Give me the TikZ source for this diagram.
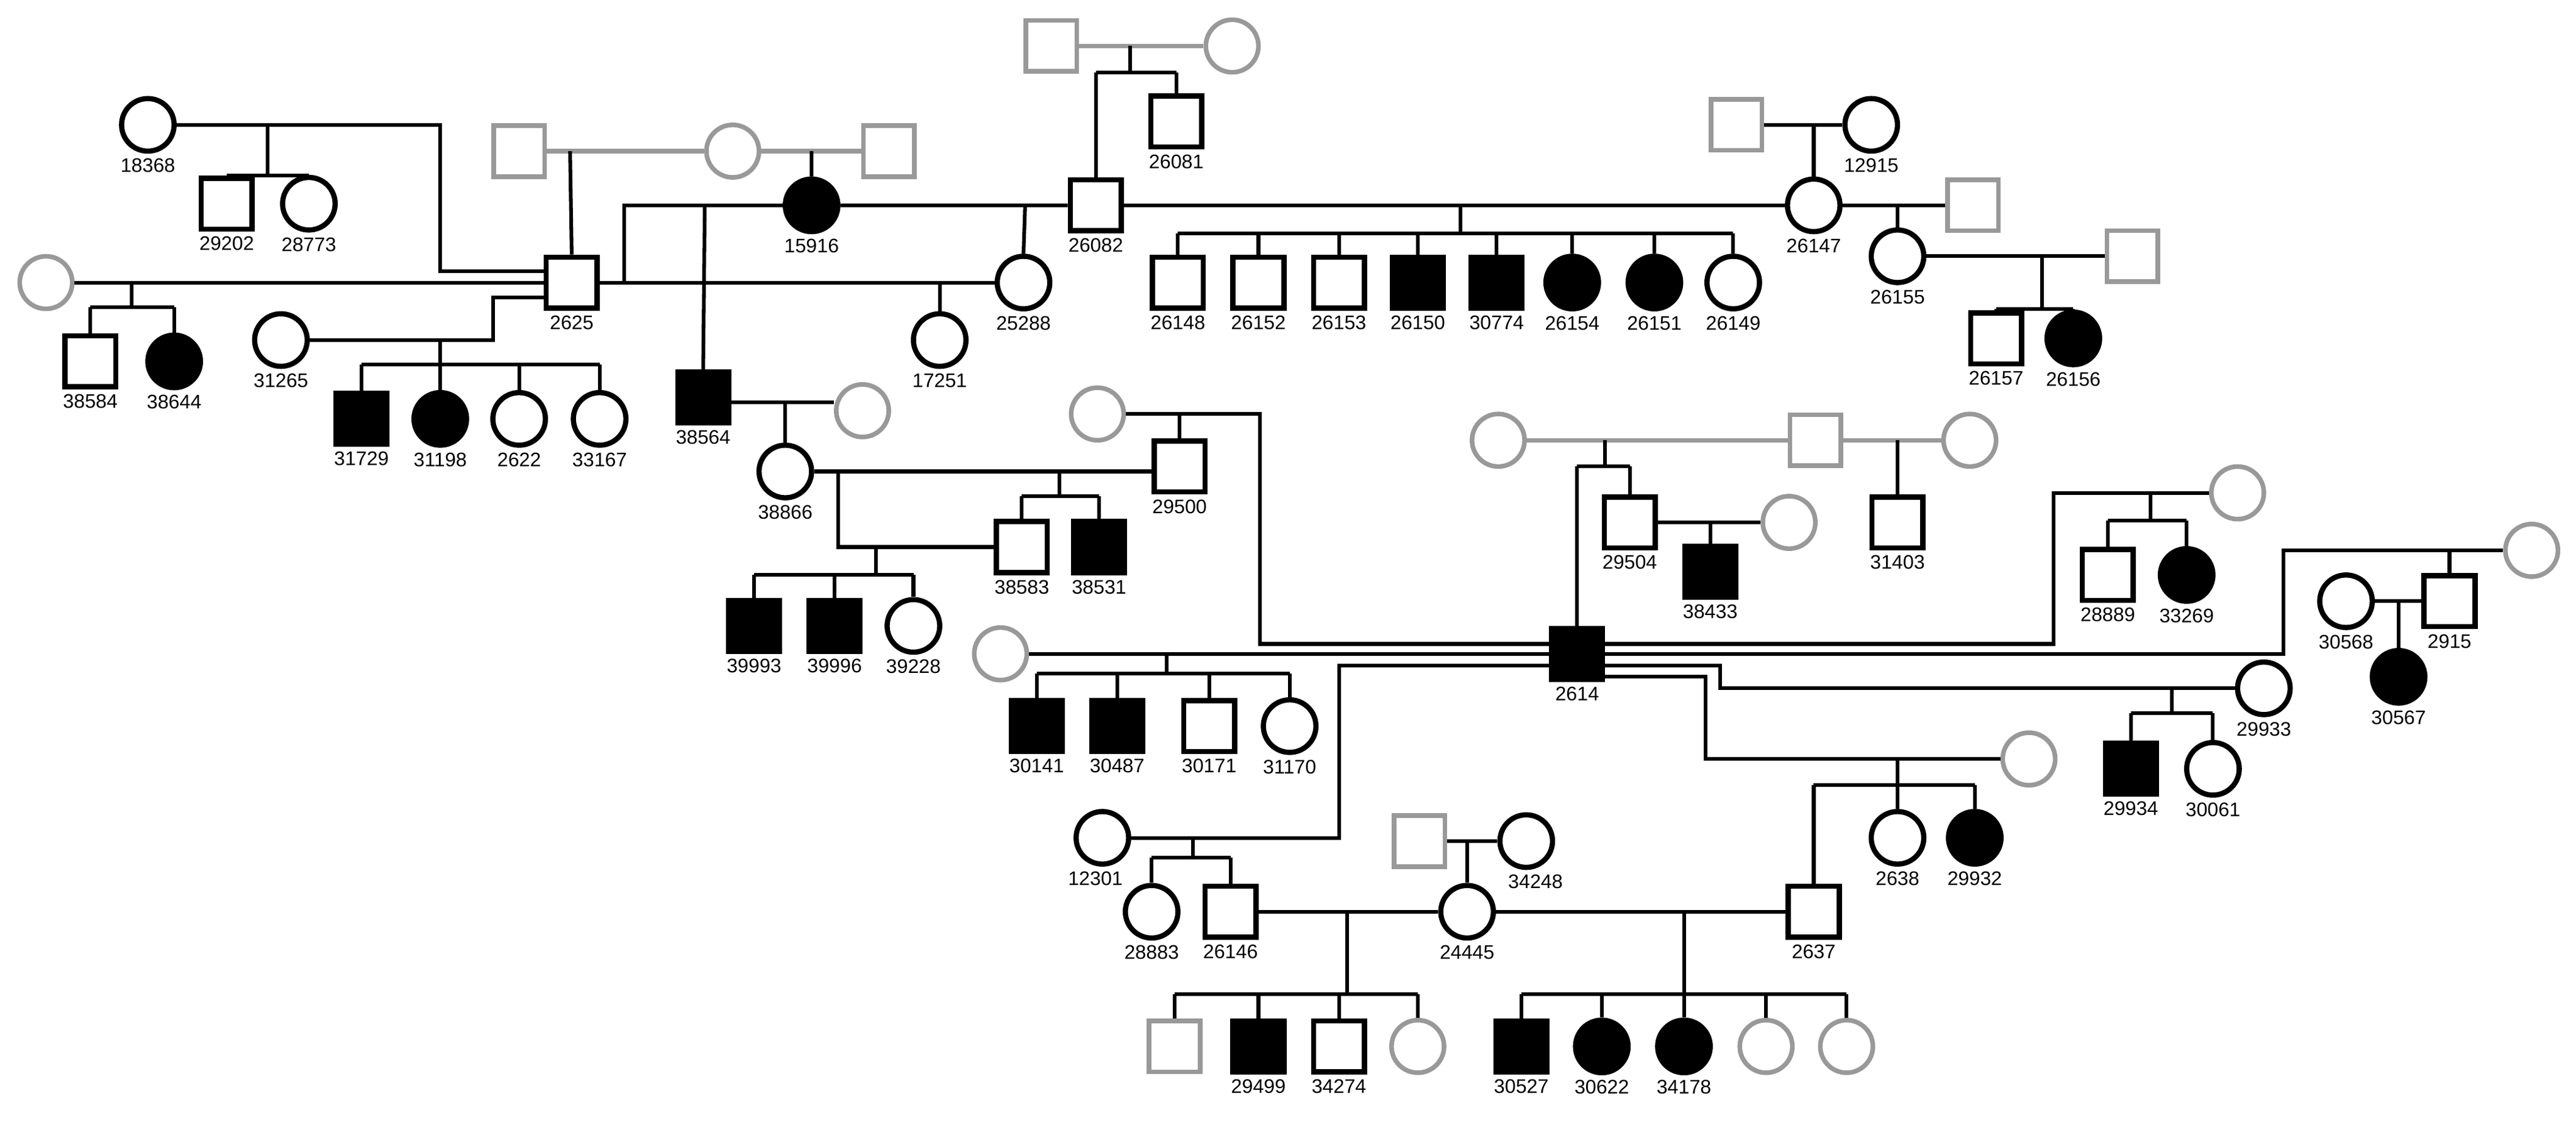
\documentclass[tikz,border=0pt]{standalone}
\usepackage{fontspec}
\setmainfont{Liberation Sans}
\usetikzlibrary{positioning}
\tikzset{
	every node/.style={line width=4.5pt, inner sep=0pt},
	m/.style={draw, minimum size=1.55cm, rectangle}, % male
	f/.style={draw, minimum size=1.6cm, circle}, % female
	aff/.style={fill=black}, % affected
	gr/.style={draw=gray!80, line width=4pt}, % outside pedigree
	every label/.style={font=\fontsize{17}{17}\selectfont, label distance=2pt},
	rel/.style={line width=3.2pt},
}
\newcommand{\sibship}[4]{%
	\draw[rel] (#2.north |- 0,#1) -- (#3.north |- 0,#1);
	\foreach \c in {#4} \draw[rel] (\c.north) -- (\c.north |- 0,#1);}

\begin{document}
\begin{tikzpicture}[x=0.05cm, y=-0.05cm]
	\useasboundingbox (0,0) rectangle (1568,686);
	% top left
	\node[f,label=below:18368] (n18368) at (90,76) {};
	\node[m,label=below:29202] (n29202) at (138,124) {};
	\node[f,label=below:28773] (n28773) at (188,124) {};
	\node[m,gr] (g1) at (316,92) {};
	\node[f,gr] (g2) at (446,92) {};
	\node[m,gr] (g3) at (541,92) {};
	\node[m,label=below:2625] (n2625) at (348,172) {};
	\node[f,aff,label=below:15916] (n15916) at (494,125) {};
	\node[f,gr] (g9) at (28,172) {};
	\node[m,label=below:38584] (n38584) at (55,220) {};
	\node[f,aff,label=below:38644] (n38644) at (106,220) {};
	\node[f,label=below:31265] (n31265) at (171,207) {};
	\node[m,aff,label=below:31729] (n31729) at (220,255) {};
	\node[f,aff,label=below:31198] (n31198) at (268,255) {};
	\node[f,label=below:2622] (n2622) at (316,255) {};
	\node[f,label=below:33167] (n33167) at (365,255) {};
	\node[f,label=below:17251] (n17251) at (572,207) {};
	\node[f,label=below:25288] (n25288) at (623,172) {};
	% top middle
	\node[m,gr] (g4) at (640,28) {};
	\node[f,gr] (g5) at (750,28) {};
	\node[m,label=below:26081] (n26081) at (716,74) {};
	\node[m,label=below:26082] (n26082) at (667,125) {};
	\node[f,label=below:26147] (n26147) at (1104,125) {};
	\node[m,label=below:26148] (n26148) at (717,172) {};
	\node[m,label=below:26152] (n26152) at (766,172) {};
	\node[m,label=below:26153] (n26153) at (815,172) {};
	\node[m,aff,label=below:26150] (n26150) at (863,172) {};
	\node[m,aff,label=below:30774] (n30774) at (911,172) {};
	\node[f,aff,label=below:26154] (n26154) at (957,172) {};
	\node[f,aff,label=below:26151] (n26151) at (1007,172) {};
	\node[f,label=below:26149] (n26149) at (1055,172) {};
	% top right
	\node[m,gr] (g6) at (1057,76) {};
	\node[f,label=below:12915] (n12915) at (1139,76) {};
	\node[m,gr] (g7) at (1201,125) {};
	\node[f,label=below:26155] (n26155) at (1155,156) {};
	\node[m,gr] (g8) at (1298,156) {};
	\node[m,label=below:26157] (n26157) at (1215,206) {};
	\node[f,aff,label=below:26156] (n26156) at (1262,206) {};
	% middle left
	\node[m,aff,label=below:38564] (n38564) at (428,242) {};
	\node[f,gr] (g10) at (525,250) {};
	\node[f,label=below:38866] (n38866) at (478,287) {};
	\node[m,label=below:29500] (n29500) at (718,284) {};
	\node[m,label=below:38583] (n38583) at (622,333) {};
	\node[m,aff,label=below:38531] (n38531) at (669,333) {};
	\node[m,aff,label=below:39993] (n39993) at (459,381) {};
	\node[m,aff,label=below:39996] (n39996) at (508,381) {};
	\node[f,label=below:39228] (n39228) at (556,381) {};
	\node[f,gr] (g11) at (668,252) {};
	\node[f,gr] (g12) at (609,398) {};
	\node[m,aff,label=below:30141] (n30141) at (631,442) {};
	\node[m,aff,label=below:30487] (n30487) at (680,442) {};
	\node[m,label=below:30171] (n30171) at (736,442) {};
	\node[f,label=below:31170] (n31170) at (785,442) {};
	% centre
	\node[m,aff,label=below:2614] (n2614) at (960,398) {};
	\node[f,gr] (g13) at (912,268) {};
	\node[m,gr] (g14) at (1105,268) {};
	\node[f,gr] (g15) at (1199,268) {};
	\node[m,label=below:29504] (n29504) at (992,318) {};
	\node[f,gr] (g16) at (1089,318) {};
	\node[m,aff,label=below:38433] (n38433) at (1041,348) {};
	\node[m,label=below:31403] (n31403) at (1155,318) {};
	% middle right
	\node[f,gr] (g17) at (1362,300) {};
	\node[m,label=below:28889] (n28889) at (1283,350) {};
	\node[f,aff,label=below:33269] (n33269) at (1331,350) {};
	\node[f,gr] (g18) at (1541,335) {};
	\node[m,label=below:2915] (n2915) at (1491,366) {};
	\node[f,label=below:30568] (n30568) at (1428,366) {};
	\node[f,aff,label=below:30567] (n30567) at (1460,412) {};
	\node[f,label=below:29933] (n29933) at (1378,419) {};
	\node[m,aff,label=below:29934] (n29934) at (1297,468) {};
	\node[f,label=below:30061] (n30061) at (1347,468) {};
	\node[f,gr] (g19) at (1235,462) {};
	\node[f,label=below:2638] (n2638) at (1155,510) {};
	\node[f,aff,label=below:29932] (n29932) at (1202,510) {};
	% bottom
	\node[f,label={[xshift=-6pt]below:12301}] (n12301) at (671,510) {};
	\node[f,label=below:28883] (n28883) at (701,555) {};
	\node[m,label=below:26146] (n26146) at (749,555) {};
	\node[m,gr] (g22) at (864,512) {};
	\node[f,label={[xshift=8pt]below:34248}] (n34248) at (929,512) {};
	\node[f,label=below:24445] (n24445) at (893,555) {};
	\node[m,label=below:2637] (n2637) at (1104,555) {};
	\node[m,gr] (g20) at (715,637) {};
	\node[m,aff,label=below:29499] (n29499) at (766,637) {};
	\node[m,label=below:34274] (n34274) at (815,637) {};
	\node[f,gr] (g21) at (863,637) {};
	\node[m,aff,label=below:30527] (n30527) at (926,637) {};
	\node[f,aff,label=below:30622] (n30622) at (975,637) {};
	\node[f,aff,label=below:34178] (n34178) at (1025,637) {};
	\node[f,gr] (g23) at (1075,637) {};
	\node[f,gr] (g24) at (1124,637) {};

	% matings and sibships
	\draw[rel] (n18368.east) -- (268,76) -- (268,165) -- (n2625.west |- 0,165);
	\draw[rel] (163,76) -- (163,107);
	\sibship{107}{n29202}{n28773}{n29202,n28773}
	\draw[gr] (g1.east) -- (g2.west) (g2.east) -- (g3.west);
	\draw[rel] (347,92) -- (n2625.north) (494,92) -- (n15916.north);
	\draw[rel] (380,172) -- (380,125) -- (n15916.west);
	\draw[rel] (429,125) -- (n38564.north);
	\draw[rel] (n15916.east) -- (n26082.west) (624,125) -- (n25288.north);
	\draw[rel] (n2625.east) -- (n25288.west) (572,172) -- (n17251.north);
	\draw[rel] (g9.east) -- (n2625.west) (80,172) -- (80,187);
	\sibship{187}{n38584}{n38644}{n38584,n38644}
	\draw[rel] (n31265.east) -- (300,207) -- (300,181) -- (n2625.west |- 0,181);
	\draw[rel] (268,207) -- (268,222);
	\sibship{222}{n31729}{n33167}{n31729,n31198,n2622,n33167}
	\draw[gr] (g4.east) -- (g5.west);
	\draw[rel] (688,28) -- (688,44);
	\sibship{44}{n26082}{n26081}{n26082,n26081}
	\draw[rel] (n26082.east) -- (n26147.west) (889,125) -- (889,142);
	\sibship{142}{n26148}{n26149}{n26148,n26152,n26153,n26150,n30774,n26154,n26151,n26149}
	\draw[rel] (g6.east) -- (n12915.west) (1104,76) -- (n26147.north);
	\draw[rel] (n26147.east) -- (g7.west) (1155,125) -- (n26155.north);
	\draw[rel] (n26155.east) -- (g8.west) (1243,156) -- (1243,188);
	\sibship{188}{n26157}{n26156}{n26157,n26156}
	\draw[rel] (n38564.east |- 0,245) -- (g10.west |- 0,245) (478,245) -- (n38866.north);
	\draw[rel] (n38866.east) -- (n29500.west |- 0,287) (645,287) -- (645,302);
	\sibship{302}{n38583}{n38531}{n38583,n38531}
	\draw[rel] (510,287) -- (510,333) -- (n38583.west) (533,333) -- (533,350);
	\sibship{350}{n39993}{n39228}{n39993,n39996,n39228}
	\draw[rel] (g11.east) -- (767,252) -- (767,392) -- (n2614.west |- 0,392);
	\draw[rel] (718,252) -- (n29500.north);
	\draw[rel] (g12.east) -- (n2614.west |- 0,398) (710,398) -- (710,410);
	\sibship{410}{n30141}{n31170}{n30141,n30487,n30171,n31170}
	\draw[rel] (n12301.east) -- (815,510) -- (815,405) -- (n2614.west |- 0,405);
	\draw[rel] (726,510) -- (726,522);
	\sibship{522}{n28883}{n26146}{n28883,n26146}
	\draw[gr] (g13.east) -- (g14.west) (g14.east) -- (g15.west);
	\draw[rel] (977,268) -- (977,284) (1155,268) -- (n31403.north);
	\sibship{284}{n2614}{n29504}{n2614,n29504}
	\draw[rel] (n29504.east) -- (g16.west) (1041,318) -- (n38433.north);
	\draw[rel] (n2614.east |- 0,392) -- (1250,392) -- (1250,300) -- (g17.west);
	\draw[rel] (1309,300) -- (1309,317);
	\sibship{317}{n28889}{n33269}{n28889,n33269}
	\draw[rel] (n2614.east |- 0,398) -- (1390,398) -- (1390,335) -- (g18.west);
	\draw[rel] (1491,335) -- (n2915.north);
	\draw[rel] (n30568.east) -- (n2915.west) (1460,366) -- (n30567.north);
	\draw[rel] (n2614.east |- 0,405) -- (1047,405) -- (1047,419) -- (n29933.west);
	\draw[rel] (1322,419) -- (1322,434);
	\sibship{434}{n29934}{n30061}{n29934,n30061}
	\draw[rel] (n2614.east |- 0,412) -- (1038,412) -- (1038,462) -- (g19.west);
	\draw[rel] (1155,462) -- (1155,478);
	\sibship{478}{n2637}{n29932}{n2637,n2638,n29932}
	\draw[rel] (g22.east) -- (n34248.west) (893,512) -- (n24445.north);
	\draw[rel] (n26146.east) -- (n24445.west) (820,555) -- (820,605);
	\sibship{605}{g20}{g21}{g20,n29499,n34274,g21}
	\draw[rel] (n24445.east) -- (n2637.west) (1025,555) -- (1025,605);
	\sibship{605}{n30527}{g24}{n30527,n30622,n34178,g23,g24}
\end{tikzpicture}
\end{document}
